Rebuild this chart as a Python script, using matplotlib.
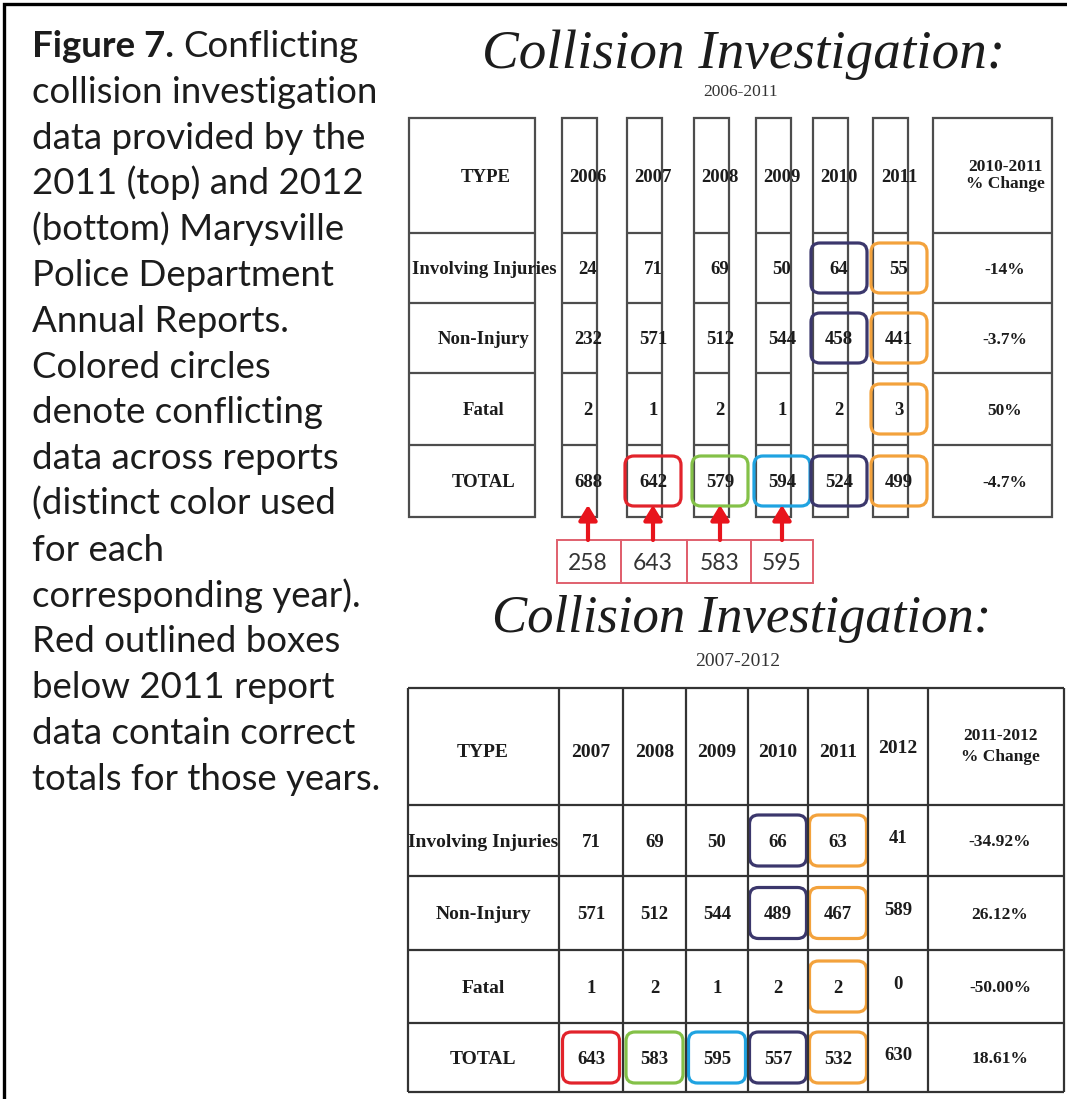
import matplotlib
matplotlib.use("Agg")
import matplotlib.pyplot as plt
from matplotlib.patches import FancyBboxPatch, Rectangle

# ---------------- data ----------------
caption_bold = "Figure 7."
caption_first = "Conflicting"
caption_lines = [
    "collision investigation",
    "data provided by the",
    "2011 (top) and 2012",
    "(bottom) Marysville",
    "Police Department",
    "Annual Reports.",
    "Colored circles",
    "denote conflicting",
    "data across reports",
    "(distinct color used",
    "for each",
    "corresponding year).",
    "Red outlined boxes",
    "below 2011 report",
    "data contain correct",
    "totals for those years.",
]

row_types = ["Involving Injuries", "Non-Injury", "Fatal", "TOTAL"]

top_title = "Collision Investigation:"
top_subtitle = "2006-2011"
top_years = ["2006", "2007", "2008", "2009", "2010", "2011"]
top_change_header = "2010-2011\n% Change"
top_injuries = [24, 71, 69, 50, 64, 55]
top_noninjury = [232, 571, 512, 544, 458, 441]
top_fatal = [2, 1, 2, 1, 2, 3]
top_total = [688, 642, 579, 594, 524, 499]
top_change = ["-14%", "-3.7%", "50%", "-4.7%"]

bot_title = "Collision Investigation:"
bot_subtitle = "2007-2012"
bot_years = ["2007", "2008", "2009", "2010", "2011", "2012"]
bot_change_header = "2011-2012\n% Change"
bot_injuries = [71, 69, 50, 66, 63, 41]
bot_noninjury = [571, 512, 544, 489, 467, 589]
bot_fatal = [1, 2, 1, 2, 2, 0]
bot_total = [643, 583, 595, 557, 532, 630]
bot_change = ["-34.92%", "26.12%", "-50.00%", "18.61%"]

correct_years = ["2006", "2007", "2008", "2009"]
correct_totals = [258, 643, 583, 595]

# conflicting cells: (row type, year, colour)
top_flags = [
    ("Involving Injuries", "2010", "purple"), ("Involving Injuries", "2011", "orange"),
    ("Non-Injury", "2010", "purple"), ("Non-Injury", "2011", "orange"),
    ("Fatal", "2011", "orange"),
    ("TOTAL", "2007", "red"), ("TOTAL", "2008", "green"), ("TOTAL", "2009", "blue"),
    ("TOTAL", "2010", "purple"), ("TOTAL", "2011", "orange"),
]
bot_flags = [
    ("Involving Injuries", "2010", "purple"), ("Involving Injuries", "2011", "orange"),
    ("Non-Injury", "2010", "purple"), ("Non-Injury", "2011", "orange"),
    ("Fatal", "2011", "orange"),
    ("TOTAL", "2007", "red"), ("TOTAL", "2008", "green"), ("TOTAL", "2009", "blue"),
    ("TOTAL", "2010", "purple"), ("TOTAL", "2011", "orange"),
]

# ---------------- styles / layout (pixels) ----------------
W, H = 1067, 1099
SERIF = "Liberation Serif"
SANS = "Lato"
INK = "#1c1c1c"
FLAG_COLORS = {"red": "#e2232b", "green": "#84c148", "blue": "#1fa3e1",
               "purple": "#3b376c", "orange": "#f3a23c"}
ARROW_RED = "#e8141c"
BOX_RED = "#e0606e"

fig = plt.figure(figsize=(W / 100, H / 100), dpi=100)
fig.patch.set_facecolor("white")
ax = fig.add_axes([0, 0, 1, 1])
ax.set_xlim(0, W)
ax.set_ylim(H, 0)
ax.axis("off")
fig.canvas.draw()
renderer = fig.canvas.get_renderer()


def text_width(s, **kw):
    t = ax.text(0, 0, s, **kw)
    w = t.get_window_extent(renderer).width
    t.remove()
    return w


def fit_size(s, target, **kw):
    return 20 * target / text_width(s, fontsize=20, **kw)


def em(pt):
    return pt * 100 / 72.0


def ctext(x, y, s, size, **kw):
    # vertically centre digits / capitals on y
    ax.text(x, y + 0.33 * em(size), s, fontsize=size, ha="center", va="baseline", **kw)


# frame
ax.plot([4, 4, W], [H, 4, 4], color="black", lw=2.4, solid_joinstyle="miter")

# ---------------- caption ----------------
CAP_X, CAP_BASE0, CAP_STEP = 32, 57, 45.8
cap_size = fit_size("collision investigation", 346, family=SANS)
tb = ax.text(CAP_X, CAP_BASE0, caption_bold, fontsize=cap_size, family=SANS,
             fontweight="bold", color=INK, va="baseline")
bw = tb.get_window_extent(renderer).width
sp = (text_width("a a", fontsize=cap_size, family=SANS)
      - text_width("aa", fontsize=cap_size, family=SANS))
ax.text(CAP_X + bw + sp, CAP_BASE0, caption_first, fontsize=cap_size, family=SANS,
        color=INK, va="baseline")
for i, line in enumerate(caption_lines, start=1):
    ax.text(CAP_X, CAP_BASE0 + i * CAP_STEP, line, fontsize=cap_size, family=SANS,
            color=INK, va="baseline")

# ---------------- top table ----------------
ts = fit_size(top_title, 522, family=SERIF, style="italic")
ax.text(744, 68, top_title, fontsize=ts, family=SERIF, style="italic",
        ha="center", va="baseline", color=INK)
ax.text(741, 96, top_subtitle, fontsize=12.5, family=SERIF, ha="center",
        va="baseline", color="#333333")

TOP_ROWS = [118, 233, 303, 373, 445, 517]
TOP_TYPE = (409, 535)
TOP_TXT_X = [588, 653, 720, 782, 839, 899]
TOP_CHG = (933, 1052)
TOP_CHG_TX = 1005
TOP_LABEL_X = 484
LINE_TOP = "#4d4d4d"


def column_box(x0, x1, rows, color, lw):
    ax.add_patch(Rectangle((x0, rows[0]), x1 - x0, rows[-1] - rows[0], fill=False,
                           ec=color, lw=lw, joinstyle="miter"))
    for y in rows[1:-1]:
        ax.plot([x0, x1], [y, y], color=color, lw=lw, solid_capstyle="butt")


column_box(*TOP_TYPE, TOP_ROWS, LINE_TOP, 1.6)
for cx in TOP_TXT_X:
    column_box(cx - 26, cx + 9, TOP_ROWS, LINE_TOP, 1.6)
column_box(*TOP_CHG, TOP_ROWS, LINE_TOP, 1.6)

bold = dict(family=SERIF, fontweight="bold", color=INK)
top_centers = [(a + b) / 2 for a, b in zip(TOP_ROWS[:-1], TOP_ROWS[1:])]
hc = top_centers[0]
ctext(TOP_LABEL_X + 2, hc, "TYPE", 13.5, **bold)
for cx, yr in zip(TOP_TXT_X, top_years):
    ctext(cx, hc, yr, 13.5, **bold)
ax.text(TOP_CHG_TX, hc, top_change_header, fontsize=12.5, ha="center", va="center",
        linespacing=1.1, **bold)

top_values = [top_injuries, top_noninjury, top_fatal, top_total]
for r, (label, vals, chg) in enumerate(zip(row_types, top_values, top_change)):
    cy = top_centers[r + 1]
    ctext(TOP_LABEL_X, cy, label, 13.5, **bold)
    for cx, v in zip(TOP_TXT_X, vals):
        ctext(cx, cy, str(v), 13.5, **bold)
    ctext(TOP_CHG_TX, cy, chg, 12.5, **bold)


def flag(cx, cy, color, hw, hh):
    ax.add_patch(FancyBboxPatch((cx - hw, cy - hh), 2 * hw, 2 * hh,
                                boxstyle="round,pad=0,rounding_size=9", fill=False,
                                ec=FLAG_COLORS[color], lw=2.3))


for rt, yr, col in top_flags:
    flag(TOP_TXT_X[top_years.index(yr)], top_centers[row_types.index(rt) + 1], col, 28, 25)

# corrected totals with arrows
CORR_TOP, CORR_BOT = 540, 583
ARROW_TIP = 505
corr_x = [TOP_TXT_X[top_years.index(y)] for y in correct_years]
edges = [corr_x[0] - 31] + [(a + b) / 2 for a, b in zip(corr_x[:-1], corr_x[1:])] + [corr_x[-1] + 31]
for x0, x1 in zip(edges[:-1], edges[1:]):
    ax.add_patch(Rectangle((x0, CORR_TOP), x1 - x0, CORR_BOT - CORR_TOP, fill=False,
                           ec=BOX_RED, lw=1.4))
for cx, v in zip(corr_x, correct_totals):
    ax.annotate("", xy=(cx, ARROW_TIP), xytext=(cx, CORR_TOP),
                arrowprops=dict(arrowstyle="-|>,head_length=0.9,head_width=0.55",
                                color=ARROW_RED, lw=3.0, shrinkA=0, shrinkB=0,
                                mutation_scale=10))
    ax.text(cx, (CORR_TOP + CORR_BOT) / 2 + 0.36 * em(16.5), str(v), fontsize=16.5,
            family=SANS, color="#333333", ha="center", va="baseline")

# ---------------- bottom table ----------------
bs = fit_size(bot_title, 500, family=SERIF, style="italic")
ax.text(742, 632, bot_title, fontsize=bs, family=SERIF, style="italic",
        ha="center", va="baseline", color=INK)
ax.text(738, 666, bot_subtitle, fontsize=14, family=SERIF, ha="center",
        va="baseline", color="#333333")

BOT_COLS = [408, 559, 623, 686, 748, 808, 868, 928, 1064]
BOT_ROWS = [688, 805, 876, 950, 1023, 1092]
LINE_BOT = "#333333"
for y in BOT_ROWS:
    ax.plot([BOT_COLS[0], BOT_COLS[-1]], [y, y], color=LINE_BOT, lw=1.6, solid_capstyle="butt")
for x in BOT_COLS:
    ax.plot([x, x], [BOT_ROWS[0], BOT_ROWS[-1]], color=LINE_BOT, lw=1.6, solid_capstyle="butt")

bot_cx = [(a + b) / 2 for a, b in zip(BOT_COLS[:-1], BOT_COLS[1:])]
bot_centers = [(a + b) / 2 for a, b in zip(BOT_ROWS[:-1], BOT_ROWS[1:])]
BOT_LABEL_X = 483
BOT_CHG_TX = 1000
year_dy = [0, 0, 0, 0, 0, -4]
hc = bot_centers[0]
ctext(BOT_LABEL_X, hc + 4, "TYPE", 14, **bold)
for cx, yr, dy in zip(bot_cx[1:7], bot_years, year_dy):
    ctext(cx, hc + 4 + dy, yr, 14, **bold)
ax.text(BOT_CHG_TX, hc, bot_change_header, fontsize=12.5, ha="center", va="center",
        linespacing=1.35, **bold)

bot_values = [bot_injuries, bot_noninjury, bot_fatal, bot_total]
for r, (label, vals, chg) in enumerate(zip(row_types, bot_values, bot_change)):
    cy = bot_centers[r + 1]
    ctext(BOT_LABEL_X, cy, label, 14, **bold)
    for cx, v, dy in zip(bot_cx[1:7], vals, year_dy):
        ctext(cx, cy + dy, str(v), 13.5, **bold)
    ctext(BOT_CHG_TX, cy, chg, 12.5, **bold)

for rt, yr, col in bot_flags:
    flag(bot_cx[1 + bot_years.index(yr)], bot_centers[row_types.index(rt) + 1], col, 28.5, 25.5)

fig.savefig("out.png", dpi=100, facecolor="white")
